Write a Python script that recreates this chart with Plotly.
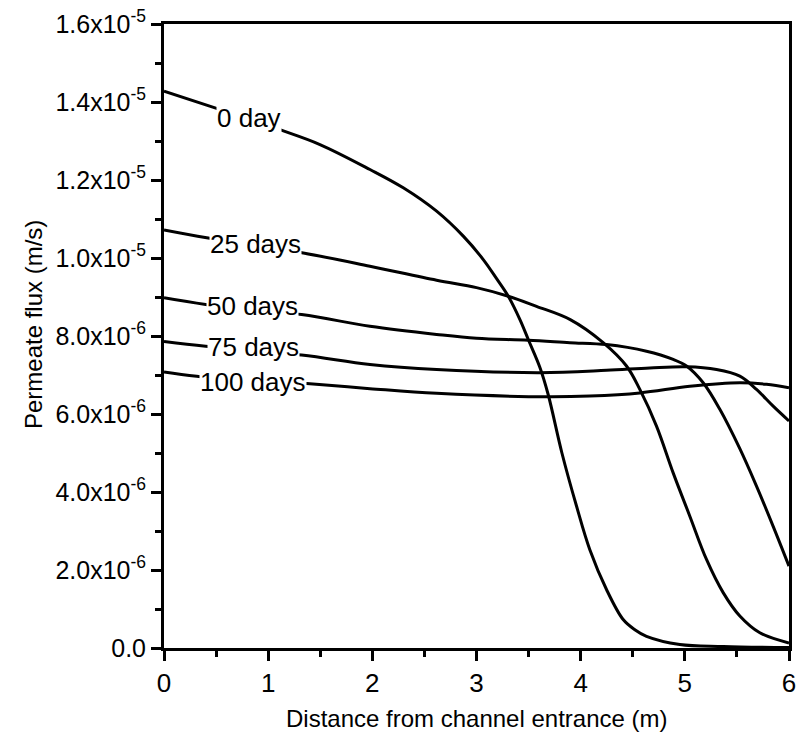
import plotly.graph_objects as go

# distance along channel (m) and permeate flux (x1e-6 m/s)
x_0day = [0, 0.49, 1.113, 1.497, 1.977, 2.297, 2.617, 2.873, 3.065, 3.193, 3.305, 3.417, 3.497,
          3.608, 3.688, 3.82, 3.96, 4.088, 4.248, 4.408, 4.52, 4.632, 4.952, 5.37, 6.0]
y_0day = [14.28, 13.85, 13.29, 12.91, 12.27, 11.80, 11.20, 10.56, 9.96, 9.47, 9.02, 8.42, 7.91,
          7.2, 6.5, 5.0, 3.64, 2.52, 1.5, 0.73, 0.47, 0.30, 0.09, 0.04, 0.01]

x_25 = [0, 0.41, 1.337, 1.977, 2.617, 3.0, 3.305, 3.576, 3.9, 4.216, 4.44, 4.568, 4.728, 4.888,
        5.048, 5.208, 5.368, 5.528, 5.72, 6.0]
y_25 = [10.72, 10.52, 10.13, 9.79, 9.43, 9.24, 9.02, 8.76, 8.42, 7.83, 7.23, 6.63, 5.69, 4.49,
        3.38, 2.27, 1.42, 0.82, 0.39, 0.13]

x_50 = [0, 0.4, 1.321, 1.977, 2.617, 3.0, 3.497, 3.896, 4.248, 4.632, 4.888, 5.016, 5.176, 5.336,
        5.528, 5.688, 5.848, 6.0]
y_50 = [8.98, 8.81, 8.55, 8.25, 8.04, 7.94, 7.89, 7.83, 7.78, 7.61, 7.40, 7.23, 6.80, 6.12,
        5.11, 4.15, 3.12, 2.10]

x_75 = [0, 0.4, 1.321, 1.977, 2.617, 3.608, 4.248, 4.664, 5.016, 5.304, 5.528, 5.688, 5.848, 6.0]
y_75 = [7.86, 7.74, 7.51, 7.27, 7.14, 7.06, 7.12, 7.18, 7.21, 7.14, 6.97, 6.63, 6.20, 5.82]

x_100 = [0, 0.314, 1.37, 1.977, 2.617, 3.688, 4.088, 4.568, 5.048, 5.528, 5.784, 6.0]
y_100 = [7.08, 6.97, 6.78, 6.65, 6.53, 6.44, 6.46, 6.54, 6.71, 6.80, 6.76, 6.67]

series_names = ["0 day", "25 days", "50 days", "75 days", "100 days"]
series_x = [x_0day, x_25, x_50, x_75, x_100]
series_y = [y_0day, y_25, y_50, y_75, y_100]

# curve label anchor points (data coords, y in 1e-6)
label_x = [0.82, 0.875, 0.85, 0.86, 0.85]
label_y = [13.6, 10.35, 8.76, 7.73, 6.83]

y_tickvals = [0, 2e-6, 4e-6, 6e-6, 8e-6, 1.0e-5, 1.2e-5, 1.4e-5, 1.6e-5]
y_ticktext = ["0.0", "2.0x10<sup>-6</sup>", "4.0x10<sup>-6</sup>", "6.0x10<sup>-6</sup>",
              "8.0x10<sup>-6</sup>", "1.0x10<sup>-5</sup>", "1.2x10<sup>-5</sup>",
              "1.4x10<sup>-5</sup>", "1.6x10<sup>-5</sup>"]
y_minor = [1e-6, 3e-6, 5e-6, 7e-6, 9e-6, 1.1e-5, 1.3e-5, 1.5e-5]
x_tickvals = [0, 1, 2, 3, 4, 5, 6]
x_minor = [0.5, 1.5, 2.5, 3.5, 4.5, 5.5]

x_title = "Distance from channel entrance (m)"
y_title = "Permeate flux (m/s)"

FONT = "Liberation Sans, Arial, sans-serif"

fig = go.Figure()
for name, xs, ys in zip(series_names, series_x, series_y):
    fig.add_trace(go.Scatter(
        x=xs, y=[v * 1e-6 for v in ys], mode="lines", name=name,
        line=dict(color="black", width=3, shape="spline", smoothing=1.0),
        showlegend=False, hoverinfo="skip"))

for name, lx, ly in zip(series_names, label_x, label_y):
    fig.add_annotation(x=lx, y=ly * 1e-6, text=name, showarrow=False,
                       font=dict(family=FONT, size=26, color="black"),
                       bgcolor="white", borderpad=0, xanchor="center", yanchor="middle")

# axis titles placed as paper-referenced annotations
fig.add_annotation(x=0.5, y=-0.1122, xref="paper", yref="paper", text=x_title, showarrow=False,
                   font=dict(family=FONT, size=24, color="black"), xanchor="center", yanchor="middle")
fig.add_annotation(x=-0.2096, y=0.5176, xref="paper", yref="paper", text=y_title, showarrow=False,
                   textangle=-90, font=dict(family=FONT, size=24, color="black"),
                   xanchor="center", yanchor="middle")

axis_common = dict(showline=True, linecolor="black", linewidth=3, mirror=True,
                   ticks="outside", tickcolor="black", tickwidth=3, ticklen=10,
                   showgrid=False, zeroline=False, automargin=False)

fig.update_xaxes(range=[0, 6], tickmode="array", tickvals=x_tickvals,
                 tickfont=dict(family=FONT, size=26, color="black"),
                 minor=dict(tickmode="array", tickvals=x_minor, ticks="outside",
                            ticklen=6, tickwidth=3, tickcolor="black", showgrid=False),
                 **axis_common)
fig.update_yaxes(range=[0, 1.6e-5], tickmode="array", tickvals=y_tickvals, ticktext=y_ticktext,
                 tickfont=dict(family=FONT, size=25, color="black"),
                 minor=dict(tickmode="array", tickvals=y_minor, ticks="outside",
                            ticklen=6, tickwidth=3, tickcolor="black", showgrid=False),
                 **axis_common)

fig.update_layout(width=798, height=735, plot_bgcolor="white", paper_bgcolor="white",
                  margin=dict(l=164, r=9, t=24, b=87))

fig.write_html("out.html")
